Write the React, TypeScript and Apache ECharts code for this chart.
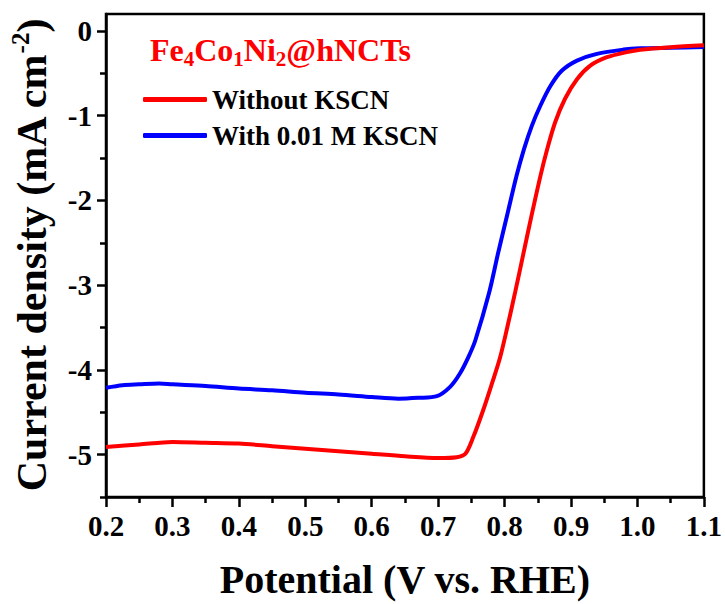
import React, { useEffect, useRef } from "react";
import * as echarts from "echarts";

// Potential (V vs. RHE) and current density (mA cm^-2) for each polarization curve
const potentialWithout = [
  0.2, 0.25, 0.3, 0.35, 0.4, 0.45, 0.5, 0.55, 0.6, 0.65, 0.7, 0.728, 0.741, 0.753,
  0.768, 0.781, 0.793, 0.804, 0.816, 0.828, 0.84, 0.854, 0.864, 0.876, 0.891,
  0.909, 0.929, 0.954, 0.984, 1.004, 1.05, 1.1,
];
const currentWithout = [
  -4.91, -4.88, -4.85, -4.86, -4.87, -4.9, -4.93, -4.96, -4.99, -5.02, -5.04, -5.03,
  -4.99, -4.79, -4.47, -4.16, -3.86, -3.5, -3.08, -2.64, -2.2, -1.71, -1.4, -1.08,
  -0.8, -0.57, -0.41, -0.31, -0.25, -0.222, -0.192, -0.17,
];

const potentialWith = [
  0.2, 0.225, 0.25, 0.28, 0.3, 0.35, 0.4, 0.45, 0.5, 0.55, 0.6, 0.64, 0.67, 0.698,
  0.718, 0.733, 0.746, 0.756, 0.777, 0.79, 0.804, 0.818, 0.829, 0.841, 0.854,
  0.869, 0.886, 0.909, 0.939, 0.979, 1.004, 1.05, 1.1,
];
const currentWith = [
  -4.21, -4.18, -4.17, -4.16, -4.17, -4.19, -4.22, -4.24, -4.27, -4.29, -4.32, -4.34,
  -4.33, -4.31, -4.2, -4.04, -3.84, -3.65, -3.08, -2.63, -2.17, -1.71, -1.4,
  -1.12, -0.88, -0.65, -0.47, -0.35, -0.27, -0.22, -0.205, -0.198, -0.19,
];

const xMinorTicks = [0.25, 0.35, 0.45, 0.55, 0.65, 0.75, 0.85, 0.95, 1.05];
const yMajorTicks = [0, -1, -2, -3, -4, -5];
const yMinorTicks = [-0.5, -1.5, -2.5, -3.5, -4.5, -5.5];

const seriesNames = ["Without KSCN", "With 0.01 M KSCN"];

const FONT = "'Liberation Serif', 'Times New Roman', serif";

const pair = (xs: number[], ys: number[]) => xs.map((x, i) => [x, ys[i]]);

export default function App() {
  const ref = useRef<HTMLDivElement>(null);

  useEffect(() => {
    if (!ref.current) return;
    const chart = echarts.init(ref.current, null, { renderer: "svg" });

    const tickLine = { color: "#000", width: 2.5 };
    const axisLine = { show: true, onZero: false, lineStyle: tickLine };
    const hiddenLine = { show: false, onZero: false };
    const labelStyle = {
      color: "#000",
      fontFamily: FONT,
      fontWeight: "bold" as const,
      fontSize: 29,
    };

    chart.setOption({
      animation: false,
      backgroundColor: "#fff",
      title: {
        left: 150,
        top: 31,
        padding: 0,
        text: "{a|Fe}{s|4}{a|Co}{s|1}{a|Ni}{s|2}{a|@hNCTs}",
        textStyle: {
          rich: {
            a: {
              color: "#ff0000",
              fontFamily: FONT,
              fontWeight: "bold",
              fontSize: 32,
              lineHeight: 38,
            },
            s: {
              color: "#ff0000",
              fontFamily: FONT,
              fontWeight: "bold",
              fontSize: 21,
              lineHeight: 38,
              verticalAlign: "bottom",
              padding: [12, 0, 0, 0],
            },
          },
        },
      },
      legend: {
        data: seriesNames,
        orient: "vertical",
        left: 143,
        top: 86,
        padding: 0,
        itemWidth: 64,
        itemHeight: 5,
        itemGap: 9,
        icon: "roundRect",
        textStyle: {
          color: "#000",
          fontFamily: FONT,
          fontWeight: "bold",
          fontSize: 27,
          lineHeight: 27,
        },
      },
      grid: {
        left: 105,
        right: 21,
        top: 14,
        bottom: 107,
        show: true,
        borderColor: "#000",
        borderWidth: 2.5,
        containLabel: false,
      },
      xAxis: [
        {
          type: "value",
          min: 0.2,
          max: 1.1,
          interval: 0.1,
          position: "bottom",
          name: "Potential (V vs. RHE)",
          nameLocation: "middle",
          nameGap: 62,
          nameTextStyle: { ...labelStyle, fontSize: 40 },
          axisLine,
          axisTick: { show: true, inside: false, length: 10, lineStyle: tickLine },
          axisLabel: {
            ...labelStyle,
            margin: 14,
            formatter: (v: number) => v.toFixed(1),
          },
          splitLine: { show: false },
        },
        {
          type: "value",
          min: 0.2,
          max: 1.1,
          position: "bottom",
          axisLine: hiddenLine,
          axisTick: {
            show: true,
            inside: false,
            length: 6,
            customValues: xMinorTicks,
            lineStyle: tickLine,
          },
          axisLabel: { show: false },
          splitLine: { show: false },
        },
      ],
      yAxis: [
        {
          type: "value",
          min: -5.5,
          max: 0.2,
          position: "left",
          name: "{t|Current density (mA cm}{p|-2}{t|)}",
          nameLocation: "middle",
          nameRotate: 90,
          nameGap: 50,
          nameTextStyle: {
            rich: {
              t: { ...labelStyle, fontSize: 42, lineHeight: 48 },
              p: {
                ...labelStyle,
                fontSize: 25,
                lineHeight: 48,
                verticalAlign: "top",
                padding: [0, 0, 14, 0],
              },
            },
          },
          axisLine,
          axisTick: {
            show: true,
            inside: false,
            length: 9,
            customValues: yMajorTicks,
            lineStyle: tickLine,
          },
          axisLabel: {
            ...labelStyle,
            margin: 14,
            customValues: yMajorTicks,
            formatter: (v: number) => String(v),
          },
          splitLine: { show: false },
        },
        {
          type: "value",
          min: -5.5,
          max: 0.2,
          position: "left",
          axisLine: hiddenLine,
          axisTick: {
            show: true,
            inside: false,
            length: 6,
            customValues: yMinorTicks,
            lineStyle: tickLine,
          },
          axisLabel: { show: false },
          splitLine: { show: false },
        },
      ],
      series: [
        {
          name: seriesNames[1],
          type: "line",
          data: pair(potentialWith, currentWith),
          showSymbol: false,
          symbol: "none",
          smooth: 0.3,
          color: "#0000ff",
          lineStyle: { color: "#0000ff", width: 4 },
        },
        {
          name: seriesNames[0],
          type: "line",
          data: pair(potentialWithout, currentWithout),
          showSymbol: false,
          symbol: "none",
          smooth: 0.3,
          color: "#ff0000",
          lineStyle: { color: "#ff0000", width: 4 },
        },
      ],
    });

    return () => chart.dispose();
  }, []);

  return (
    <div
      ref={ref}
      style={{ position: "fixed", left: 0, top: 0, width: 725, height: 604 }}
    />
  );
}
